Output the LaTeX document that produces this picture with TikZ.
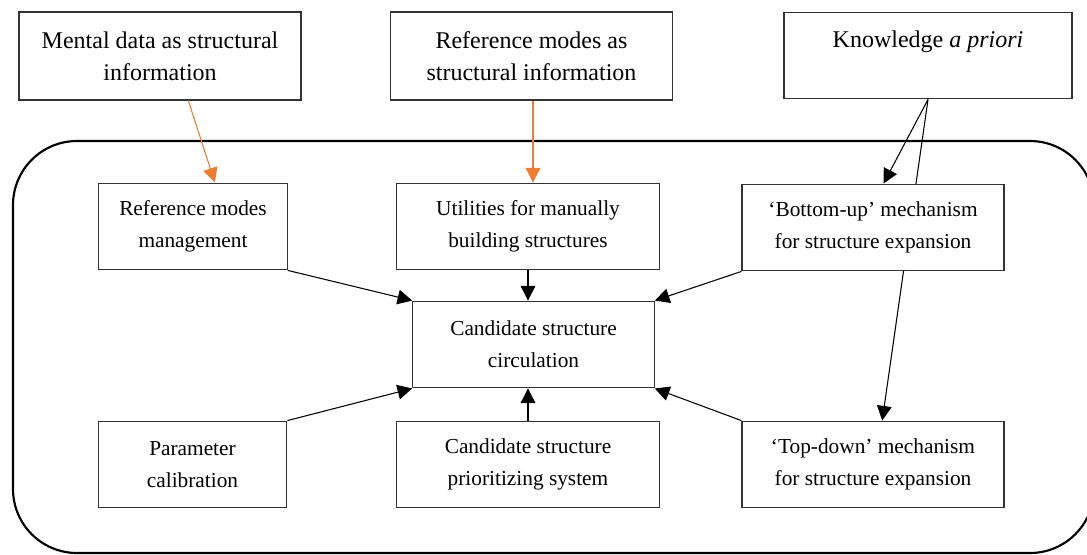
\documentclass[tikz,border=0pt]{standalone}
\usepackage{fontspec}
\setmainfont{Liberation Serif}
\usetikzlibrary{calc,arrows.meta,backgrounds}
\definecolor{infoorange}{RGB}{237,125,49}
\tikzset{
    box/.style={draw=black!80, fill=white, line width=0.9pt, align=center, inner sep=0pt, minimum height=65pt},
    topbox/.style={box, minimum width=211.5pt, minimum height=66pt, font=\fontsize{18}{24}\selectfont},
    innerbox/.style={box, font=\fontsize{16}{24}\selectfont},
    edge/.style={draw, line width=0.8pt, -{Triangle[length=11pt, width=11pt]}},
    infoedge/.style={edge, infoorange}
}
\begin{document}
\begin{tikzpicture}[x=0.75pt, y=-0.75pt]
    \useasboundingbox (0,0) rectangle (1087,554);
    % frame
    \draw[line width=1.6pt, rounded corners=48pt] (13,141) rectangle (1094,553);

    % Nodes
    \node[topbox] (mental) at (160,56) {Mental data as structural\\information};
    \node[topbox] (refinfo) at (531.5,56) {Reference modes as\\structural information};
    \node[topbox, minimum width=216pt, minimum height=65pt] (know) at (928,55.5) {Knowledge \textit{a priori}\\\mbox{}};

    \node[innerbox, minimum width=141.5pt] (refmgmt) at (193,226.5) {Reference modes\\management};
    \node[innerbox, minimum width=197pt] (util) at (528,226.5) {Utilities for manually\\building structures};
    \node[innerbox, minimum width=196.5pt] (bottomup) at (873,227.5) {`Bottom-up' mechanism\\for structure expansion};
    \node[innerbox, minimum width=181pt] (circ) at (533.5,344.5) {Candidate structure\\circulation};
    \node[innerbox, minimum width=141.5pt] (param) at (192.5,464.5) {Parameter\\calibration};
    \node[innerbox, minimum width=197pt] (prior) at (528,464.5) {Candidate structure\\prioritizing system};
    \node[innerbox, minimum width=196.5pt] (topdown) at (873,464.5) {`Top-down' mechanism\\for structure expansion};

    % edges
    \draw[infoedge] ($(mental.south)!0.2!(mental.south east)$) -- ($(refmgmt.north)!0.23!(refmgmt.north east)$);
    \draw[infoedge] ($(refinfo.south)+(1.5,0)$) -- ($(refinfo.south |- util.north)+(1.5,0)$);
    \draw[edge] (know.south) -- ($(bottomup.north)!0.08!(bottomup.north east)$);
    \begin{scope}[on background layer]
        \draw[edge] (know.south) -- ($(topdown.north)!0.07!(topdown.north east)$);
    \end{scope}

    \draw[edge] (refmgmt.south east) -- (circ.north west);
    \draw[edge] (util.south) -- (util.south |- circ.north);
    \draw[edge] (bottomup.south west) -- (circ.north east);
    \draw[edge] (param.north east) -- (circ.south west);
    \draw[edge] (prior.north) -- (prior.north |- circ.south);
    \draw[edge] (topdown.north west) -- (circ.south east);
\end{tikzpicture}
\end{document}
